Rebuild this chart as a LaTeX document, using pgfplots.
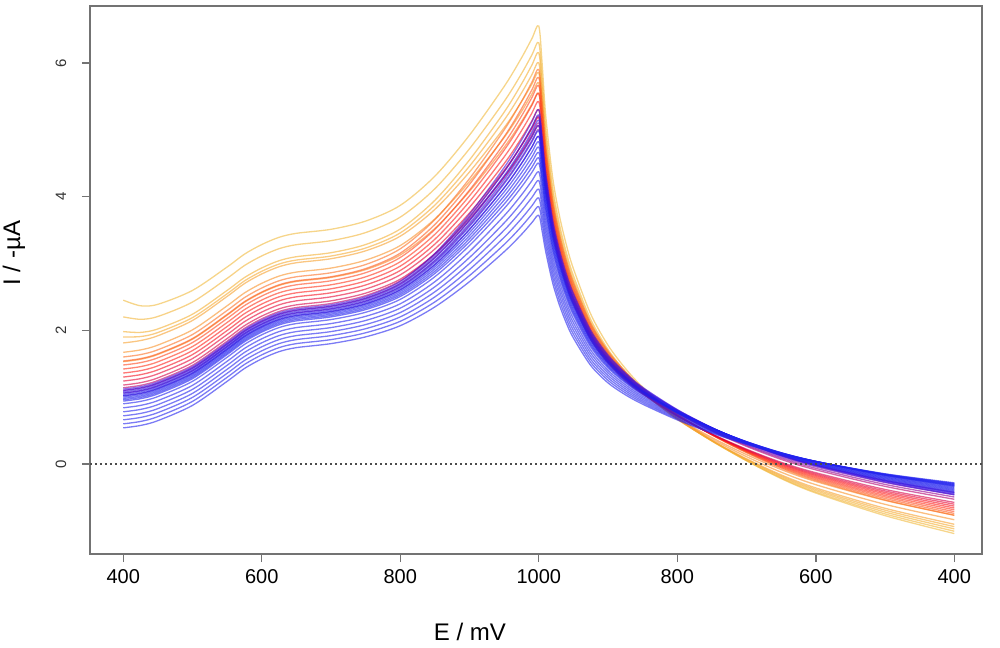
\documentclass[border=0pt]{standalone}
\usepackage{fontspec}
\setmainfont{Liberation Sans}
\usepackage{pgfplots}
\usepackage{pgfplotstable}
\pgfplotsset{compat=1.18}

\definecolor{ca1}{RGB}{240,185,60}
\definecolor{ca2}{RGB}{242,180,55}
\definecolor{ca3}{RGB}{244,175,50}
\definecolor{ca4}{RGB}{245,170,50}
\definecolor{cb1}{RGB}{246,160,45}
\definecolor{cb2}{RGB}{248,145,40}
\definecolor{cb3}{RGB}{250,130,35}
\definecolor{cc1}{RGB}{252,110,35}
\definecolor{cc2}{RGB}{253,90,30}
\definecolor{cc3}{RGB}{255,70,30}
\definecolor{cc4}{RGB}{255,50,25}
\definecolor{cc5}{RGB}{255,30,25}
\definecolor{cc6}{RGB}{245,15,30}
\definecolor{cc7}{RGB}{230,5,50}
\definecolor{cc8}{RGB}{215,0,70}
\definecolor{cd1}{RGB}{180,0,110}
\definecolor{cd2}{RGB}{150,0,145}
\definecolor{cd3}{RGB}{120,10,175}
\definecolor{cd4}{RGB}{95,15,200}
\definecolor{ce1}{RGB}{70,20,220}
\definecolor{ce2}{RGB}{60,20,225}
\definecolor{ce3}{RGB}{50,20,230}
\definecolor{ce4}{RGB}{45,25,232}
\definecolor{ce5}{RGB}{40,25,235}
\definecolor{ce6}{RGB}{30,30,238}
\definecolor{cf}{RGB}{35,35,238}

\pgfplotstableread{
x a1 a2 a3 a4 b1 b2 b3 c1 c2 c3 c4 c5 c6 c7 c8 d1 d2 d3 d4 e1 e2 e3 e4 e5 e6 e7 e8 e9 e10 f1 f2 f3 f4 f5 f6 f7
0 2.45 2.2 1.98 1.9 1.81 1.67 1.53 1.6 1.54 1.48 1.42 1.36 1.30 1.24 1.18 1.14 1.10 1.06 1.02 1.12 1.10 1.08 1.06 1.04 1.02 1.00 0.98 0.96 0.94 0.90 0.84 0.78 0.72 0.66 0.60 0.54
25 2.366 2.164 1.968 1.906 1.846 1.706 1.566 1.636 1.576 1.516 1.456 1.396 1.336 1.276 1.216 1.176 1.136 1.096 1.056 1.156 1.136 1.116 1.096 1.076 1.056 1.036 1.016 0.996 0.976 0.936 0.876 0.816 0.756 0.696 0.636 0.576
50 2.388 2.206 2.02 1.966 1.918 1.778 1.638 1.708 1.648 1.588 1.528 1.468 1.408 1.348 1.288 1.248 1.208 1.168 1.128 1.228 1.208 1.188 1.168 1.148 1.128 1.108 1.088 1.068 1.048 1.008 0.948 0.888 0.828 0.768 0.708 0.648
100 2.596 2.422 2.24 2.189 2.146 2.006 1.866 1.936 1.876 1.816 1.756 1.696 1.636 1.576 1.516 1.476 1.436 1.396 1.356 1.456 1.436 1.416 1.396 1.376 1.356 1.336 1.316 1.296 1.276 1.236 1.176 1.116 1.056 0.996 0.936 0.876
150 2.946 2.776 2.596 2.546 2.506 2.366 2.226 2.296 2.236 2.176 2.116 2.056 1.996 1.936 1.876 1.836 1.796 1.756 1.716 1.816 1.796 1.776 1.756 1.736 1.716 1.696 1.676 1.656 1.636 1.596 1.536 1.476 1.416 1.356 1.296 1.236
175 3.138 2.968 2.788 2.738 2.698 2.558 2.418 2.488 2.428 2.368 2.308 2.248 2.188 2.128 2.068 2.028 1.988 1.948 1.908 2.008 1.988 1.968 1.948 1.928 1.908 1.888 1.868 1.848 1.828 1.788 1.728 1.668 1.608 1.548 1.488 1.428
200 3.282 3.112 2.932 2.882 2.842 2.702 2.562 2.632 2.572 2.512 2.452 2.392 2.332 2.272 2.212 2.172 2.132 2.092 2.052 2.152 2.132 2.112 2.092 2.072 2.052 2.032 2.012 1.992 1.972 1.932 1.872 1.812 1.752 1.692 1.632 1.572
225 3.39 3.22 3.04 2.99 2.95 2.81 2.67 2.74 2.68 2.62 2.56 2.50 2.44 2.38 2.32 2.28 2.24 2.20 2.16 2.26 2.24 2.22 2.20 2.18 2.16 2.14 2.12 2.10 2.08 2.04 1.98 1.92 1.86 1.80 1.74 1.68
250 3.45 3.28 3.1 3.05 3.01 2.87 2.73 2.8 2.74 2.68 2.62 2.56 2.50 2.44 2.38 2.34 2.30 2.26 2.22 2.32 2.30 2.28 2.26 2.24 2.22 2.20 2.18 2.16 2.14 2.10 2.04 1.98 1.92 1.86 1.80 1.74
300 3.51 3.34 3.16 3.11 3.07 2.93 2.79 2.86 2.80 2.74 2.68 2.62 2.56 2.50 2.44 2.40 2.36 2.32 2.28 2.38 2.36 2.34 2.32 2.30 2.28 2.26 2.24 2.22 2.20 2.16 2.10 2.04 1.98 1.92 1.86 1.80
350 3.633 3.461 3.282 3.23 3.188 3.048 2.907 2.983 2.922 2.861 2.799 2.738 2.677 2.616 2.555 2.518 2.477 2.436 2.394 2.50 2.479 2.458 2.436 2.415 2.394 2.373 2.352 2.330 2.309 2.269 2.208 2.146 2.085 2.023 1.962 1.901
400 3.868 3.692 3.514 3.456 3.407 3.267 3.126 3.218 3.153 3.088 3.024 2.959 2.894 2.829 2.764 2.739 2.694 2.649 2.605 2.728 2.703 2.678 2.654 2.629 2.604 2.579 2.554 2.530 2.505 2.462 2.396 2.331 2.265 2.2 2.134 2.068
450 4.305 4.117 3.944 3.872 3.808 3.666 3.523 3.655 3.582 3.509 3.435 3.362 3.289 3.216 3.143 3.142 3.089 3.036 2.982 3.149 3.116 3.083 3.049 3.016 2.983 2.950 2.917 2.883 2.850 2.801 2.726 2.650 2.575 2.499 2.424 2.349
500 4.919 4.715 4.548 4.455 4.368 4.224 4.079 4.269 4.183 4.097 4.011 3.926 3.840 3.754 3.668 3.706 3.640 3.574 3.509 3.737 3.691 3.645 3.600 3.554 3.508 3.462 3.416 3.371 3.325 3.268 3.178 3.088 2.998 2.908 2.818 2.727
550 5.646 5.422 5.262 5.144 5.029 4.883 4.736 4.996 4.895 4.794 4.694 4.593 4.492 4.391 4.290 4.373 4.292 4.211 4.131 4.434 4.373 4.312 4.252 4.191 4.130 4.069 4.008 3.948 3.887 3.82 3.712 3.605 3.497 3.390 3.282 3.174
575 6.073 5.837 5.682 5.549 5.418 5.27 5.121 5.423 5.313 5.203 5.094 4.984 4.874 4.764 4.654 4.764 4.674 4.584 4.495 4.843 4.773 4.703 4.634 4.564 4.494 4.424 4.354 4.285 4.215 4.142 4.024 3.906 3.788 3.670 3.552 3.433
590 6.361 6.117 5.965 5.822 5.68 5.531 5.381 5.711 5.595 5.479 5.364 5.248 5.132 5.016 4.9 5.028 4.932 4.836 4.741 5.119 5.043 4.967 4.892 4.816 4.740 4.664 4.588 4.513 4.437 4.36 4.235 4.11 3.985 3.86 3.735 3.609
600 6.55 6.3 6.15 6.0 5.85 5.7 5.55 5.9 5.78 5.66 5.54 5.42 5.30 5.18 5.06 5.2 5.1 5.0 4.9 5.30 5.22 5.14 5.06 4.98 4.90 4.82 4.74 4.66 4.58 4.5 4.37 4.24 4.11 3.98 3.85 3.72
605 5.965 5.743 5.61 5.478 5.345 5.215 5.085 5.4 5.294 5.188 5.082 4.976 4.87 4.764 4.658 4.788 4.701 4.613 4.526 4.883 4.812 4.741 4.67 4.599 4.528 4.457 4.386 4.315 4.244 4.172 4.056 3.939 3.823 3.706 3.590 3.473
610 5.217 5.031 4.922 4.813 4.704 4.601 4.498 4.766 4.679 4.592 4.504 4.417 4.33 4.243 4.156 4.27 4.199 4.129 4.058 4.359 4.30 4.241 4.182 4.123 4.064 4.005 3.946 3.887 3.828 3.768 3.67 3.571 3.473 3.374 3.276 3.177
620 4.288 4.14 4.055 3.97 3.885 3.809 3.733 3.952 3.884 3.816 3.748 3.68 3.612 3.544 3.476 3.575 3.521 3.468 3.414 3.656 3.609 3.563 3.516 3.47 3.423 3.376 3.33 3.283 3.237 3.188 3.108 3.029 2.949 2.869 2.790 2.710
630 3.705 3.577 3.505 3.433 3.36 3.298 3.236 3.43 3.372 3.314 3.256 3.198 3.14 3.082 3.024 3.118 3.073 3.028 2.984 3.194 3.154 3.114 3.074 3.034 2.994 2.954 2.914 2.874 2.834 2.791 2.721 2.651 2.582 2.512 2.442 2.372
640 3.27 3.156 3.093 3.029 2.965 2.913 2.86 3.035 2.984 2.933 2.882 2.831 2.78 2.729 2.678 2.764 2.725 2.686 2.648 2.836 2.801 2.765 2.73 2.694 2.659 2.623 2.588 2.552 2.517 2.479 2.416 2.353 2.291 2.228 2.165 2.102
650 2.921 2.818 2.761 2.704 2.647 2.602 2.557 2.718 2.672 2.627 2.581 2.536 2.49 2.444 2.399 2.48 2.446 2.412 2.378 2.55 2.518 2.486 2.454 2.422 2.39 2.358 2.326 2.294 2.262 2.228 2.171 2.113 2.056 1.998 1.941 1.884
675 2.242 2.162 2.119 2.076 2.033 2.003 1.973 2.104 2.07 2.035 2.001 1.966 1.932 1.898 1.863 1.935 1.911 1.886 1.862 1.998 1.973 1.949 1.924 1.900 1.875 1.850 1.826 1.801 1.777 1.749 1.703 1.657 1.611 1.565 1.520 1.474
700 1.776 1.713 1.681 1.649 1.617 1.599 1.581 1.688 1.662 1.637 1.611 1.586 1.56 1.534 1.509 1.57 1.553 1.537 1.52 1.629 1.61 1.591 1.572 1.553 1.534 1.515 1.496 1.477 1.458 1.436 1.399 1.362 1.325 1.288 1.251 1.213
725 1.43 1.381 1.358 1.335 1.311 1.302 1.293 1.382 1.363 1.344 1.326 1.307 1.288 1.269 1.25 1.308 1.297 1.286 1.276 1.362 1.348 1.333 1.319 1.304 1.29 1.276 1.261 1.247 1.232 1.215 1.185 1.155 1.125 1.095 1.065 1.035
750 1.151 1.114 1.098 1.082 1.066 1.065 1.064 1.136 1.123 1.110 1.098 1.085 1.072 1.059 1.046 1.095 1.089 1.084 1.078 1.146 1.135 1.125 1.114 1.104 1.093 1.082 1.072 1.061 1.051 1.037 1.013 0.989 0.965 0.941 0.918 0.894
800 0.705 0.684 0.679 0.674 0.668 0.68 0.692 0.746 0.742 0.737 0.733 0.728 0.724 0.72 0.715 0.763 0.765 0.767 0.770 0.813 0.808 0.803 0.797 0.792 0.787 0.782 0.777 0.771 0.766 0.757 0.741 0.724 0.708 0.691 0.675 0.659
850 0.351 0.342 0.345 0.348 0.35 0.372 0.394 0.434 0.436 0.438 0.44 0.442 0.444 0.446 0.448 0.493 0.501 0.509 0.518 0.543 0.542 0.541 0.539 0.538 0.537 0.536 0.535 0.533 0.532 0.527 0.516 0.505 0.495 0.484 0.473 0.462
900 0.048 0.049 0.059 0.069 0.078 0.109 0.14 0.168 0.176 0.183 0.191 0.198 0.206 0.214 0.221 0.263 0.277 0.290 0.304 0.314 0.316 0.318 0.321 0.323 0.325 0.327 0.329 0.332 0.334 0.331 0.325 0.319 0.313 0.307 0.301 0.294
950 -0.219 -0.21 -0.194 -0.179 -0.163 -0.123 -0.083 -0.062 -0.05 -0.037 -0.025 -0.012 0.0 0.012 0.025 0.068 0.087 0.105 0.124 0.123 0.128 0.133 0.138 0.143 0.148 0.153 0.158 0.163 0.168 0.168 0.165 0.162 0.159 0.156 0.154 0.151
1000 -0.435 -0.42 -0.399 -0.379 -0.358 -0.31 -0.262 -0.246 -0.23 -0.213 -0.197 -0.18 -0.164 -0.148 -0.131 -0.088 -0.065 -0.042 -0.020 -0.028 -0.021 -0.014 -0.006 0.001 0.008 0.015 0.022 0.030 0.037 0.039 0.038 0.038 0.037 0.037 0.036 0.035
1100 -0.773 -0.747 -0.719 -0.691 -0.663 -0.604 -0.545 -0.538 -0.516 -0.493 -0.471 -0.448 -0.426 -0.404 -0.381 -0.335 -0.306 -0.277 -0.248 -0.271 -0.26 -0.249 -0.239 -0.228 -0.217 -0.206 -0.195 -0.185 -0.174 -0.169 -0.165 -0.162 -0.158 -0.155 -0.151 -0.147
1200 -1.041 -1.006 -0.971 -0.937 -0.902 -0.834 -0.766 -0.768 -0.74 -0.713 -0.685 -0.658 -0.63 -0.602 -0.575 -0.528 -0.494 -0.46 -0.425 -0.461 -0.447 -0.433 -0.419 -0.405 -0.391 -0.377 -0.363 -0.349 -0.335 -0.328 -0.32 -0.313 -0.305 -0.298 -0.29 -0.282
}\cvdata

\begin{document}
\begin{tikzpicture}
\begin{axis}[name=ax, scale only axis, width=446pt, height=274pt,
  xmin=-48, xmax=1240, ymin=-1.347, ymax=6.85,
  /pgf/number format/assume math mode=true,
  axis line style={draw=gray!90!black, line width=0.8pt},
  xtick={0,200,400,600,800,1000,1200},
  xticklabels={400,600,800,1000,800,600,400},
  ytick={0,2,4,6},
  tick align=outside, xtick pos=bottom, ytick pos=left,
  major tick length=4pt,
  tick style={draw=gray!90!black, line width=0.7pt},
  xticklabel style={font=\fontsize{10}{12}\selectfont, anchor=center, yshift=-7.5pt},
  yticklabel style={font=\fontsize{7.5}{9}\selectfont, text=black!80, rotate=90, anchor=center, yshift=10.5pt},
  xlabel={E / mV}, ylabel={I / -µA},
  xlabel style={font=\fontsize{12}{14}\selectfont, at={(axis description cs:0.426,0)}, anchor=center, yshift=-39pt},
  ylabel style={font=\fontsize{12}{14}\selectfont, at={(axis description cs:0,0.549)}, anchor=center, yshift=38pt},
  no markers,
  every axis plot/.append style={line width=0.65pt, draw opacity=0.6, smooth},
]
\addplot[ca1] table[x=x,y=a1] {\cvdata};
\addplot[ca2] table[x=x,y=a2] {\cvdata};
\addplot[ca3] table[x=x,y=a3] {\cvdata};
\addplot[ca4] table[x=x,y=a4] {\cvdata};
\addplot[cb1] table[x=x,y=b1] {\cvdata};
\addplot[cb2] table[x=x,y=b2] {\cvdata};
\addplot[cb3] table[x=x,y=b3] {\cvdata};
\addplot[cc1] table[x=x,y=c1] {\cvdata};
\addplot[cc2] table[x=x,y=c2] {\cvdata};
\addplot[cc3] table[x=x,y=c3] {\cvdata};
\addplot[cc4] table[x=x,y=c4] {\cvdata};
\addplot[cc5] table[x=x,y=c5] {\cvdata};
\addplot[cc6] table[x=x,y=c6] {\cvdata};
\addplot[cc7] table[x=x,y=c7] {\cvdata};
\addplot[cc8] table[x=x,y=c8] {\cvdata};
\addplot[cd1] table[x=x,y=d1] {\cvdata};
\addplot[cd2] table[x=x,y=d2] {\cvdata};
\addplot[cd3] table[x=x,y=d3] {\cvdata};
\addplot[cd4] table[x=x,y=d4] {\cvdata};
\addplot[ce1] table[x=x,y=e1] {\cvdata};
\addplot[ce2] table[x=x,y=e2] {\cvdata};
\addplot[ce3] table[x=x,y=e3] {\cvdata};
\addplot[ce4] table[x=x,y=e4] {\cvdata};
\addplot[ce5] table[x=x,y=e5] {\cvdata};
\addplot[ce6] table[x=x,y=e6] {\cvdata};
\addplot[ce6] table[x=x,y=e7] {\cvdata};
\addplot[ce6] table[x=x,y=e8] {\cvdata};
\addplot[ce6] table[x=x,y=e9] {\cvdata};
\addplot[ce6] table[x=x,y=e10] {\cvdata};
\addplot[cf] table[x=x,y=f1] {\cvdata};
\addplot[cf] table[x=x,y=f2] {\cvdata};
\addplot[cf] table[x=x,y=f3] {\cvdata};
\addplot[cf] table[x=x,y=f4] {\cvdata};
\addplot[cf] table[x=x,y=f5] {\cvdata};
\addplot[cf] table[x=x,y=f6] {\cvdata};
\addplot[cf] table[x=x,y=f7] {\cvdata};
\addplot[black!70, line width=0.8pt, draw opacity=1, dash pattern=on 0.9pt off 1.6pt, sharp plot] coordinates {(-48,0) (1240,0)};
\end{axis}
\pgfresetboundingbox
\path ([shift={(-45pt,-46.5pt)}]ax.south west) rectangle ([shift={(9pt,3pt)}]ax.north east);
\end{tikzpicture}
\end{document}
